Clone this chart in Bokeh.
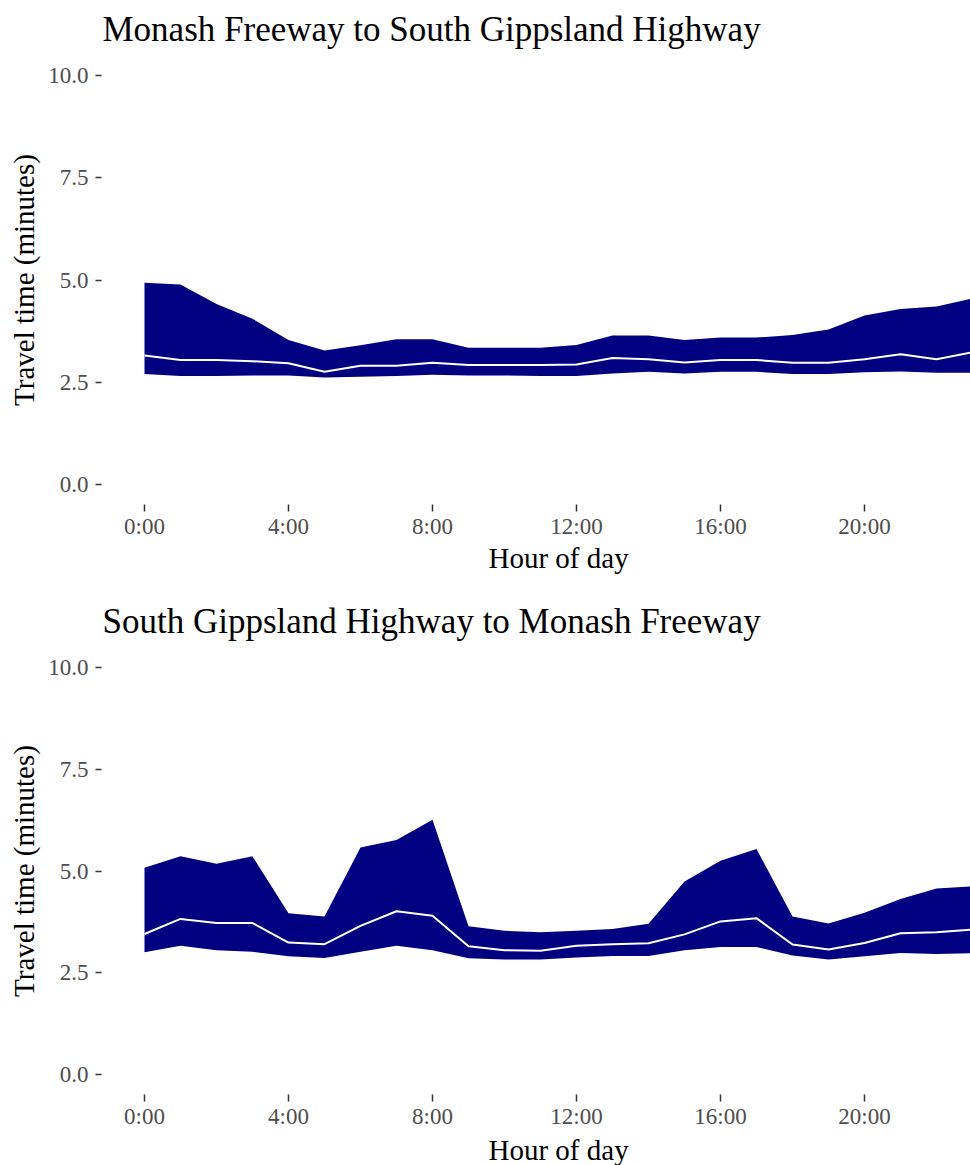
from bokeh.plotting import figure
from bokeh.layouts import column
from bokeh.models import Range1d, FixedTicker, Title
from bokeh.embed import file_html
from bokeh.resources import INLINE

hours = list(range(24))
x_ticks = [0, 4, 8, 12, 16, 20]
x_tick_labels = ["0:00", "4:00", "8:00", "12:00", "16:00", "20:00"]
y_ticks = [0, 2.5, 5, 7.5, 10]
y_tick_labels = ["0.0", "2.5", "5.0", "7.5", "10.0"]

title_top = "Monash Freeway to South Gippsland Highway"
title_bottom = "South Gippsland Highway to Monash Freeway"
x_label = "Hour of day"
y_label = "Travel time (minutes)"

# Monash Freeway -> South Gippsland Highway
mf_lower = [2.70, 2.65, 2.65, 2.66, 2.66, 2.61, 2.63, 2.65, 2.68, 2.66, 2.66, 2.65,
            2.65, 2.71, 2.75, 2.71, 2.75, 2.75, 2.70, 2.70, 2.74, 2.76, 2.73, 2.73]
mf_median = [3.15, 3.04, 3.04, 3.01, 2.96, 2.75, 2.90, 2.90, 2.97, 2.92, 2.92, 2.92,
             2.93, 3.09, 3.06, 2.98, 3.04, 3.04, 2.97, 2.97, 3.06, 3.18, 3.06, 3.23]
mf_upper = [4.93, 4.89, 4.41, 4.05, 3.53, 3.27, 3.40, 3.55, 3.55, 3.34, 3.34, 3.34,
            3.41, 3.64, 3.64, 3.53, 3.59, 3.59, 3.65, 3.79, 4.13, 4.29, 4.35, 4.55]

# South Gippsland Highway -> Monash Freeway
sg_lower = [3.00, 3.16, 3.05, 3.01, 2.90, 2.86, 3.01, 3.16, 3.05, 2.85, 2.82, 2.82,
            2.87, 2.91, 2.91, 3.05, 3.13, 3.13, 2.92, 2.82, 2.90, 2.98, 2.96, 2.98]
sg_median = [3.45, 3.82, 3.72, 3.72, 3.24, 3.20, 3.65, 4.01, 3.90, 3.15, 3.05, 3.04,
             3.16, 3.20, 3.22, 3.44, 3.76, 3.84, 3.19, 3.07, 3.23, 3.47, 3.49, 3.56]
sg_upper = [5.08, 5.36, 5.18, 5.36, 3.96, 3.88, 5.58, 5.76, 6.26, 3.64, 3.53, 3.49,
            3.53, 3.57, 3.70, 4.74, 5.25, 5.54, 3.88, 3.71, 3.97, 4.31, 4.57, 4.62]

FONT = "Liberation Serif"


def make_panel(title, lower, median, upper, height, border_bottom, xlab_standoff):
    p = figure(width=970, height=height, output_backend="svg", toolbar_location=None,
               x_range=Range1d(-1.194, 22.944), y_range=Range1d(-0.5, 10.5),
               min_border_left=101, min_border_right=0,
               min_border_top=0, min_border_bottom=border_bottom)
    p.varea(x=hours, y1=lower, y2=upper, fill_color="#000080", fill_alpha=1.0)
    p.line(x=hours, y=median, line_color="white", line_width=2)

    p.title.text = title
    p.title.text_font = FONT
    p.title.text_font_size = "35px"
    p.title.text_font_style = "normal"
    p.title.text_color = "black"
    p.title.align = "left"
    p.title.offset = 1
    p.title.standoff = 14

    p.outline_line_color = None
    p.xgrid.grid_line_color = None
    p.ygrid.grid_line_color = None
    p.background_fill_color = "white"
    p.border_fill_color = "white"

    p.xaxis.ticker = FixedTicker(ticks=x_ticks)
    p.xaxis.major_label_overrides = dict(zip(x_ticks, x_tick_labels))
    p.yaxis.ticker = FixedTicker(ticks=y_ticks)
    p.yaxis.major_label_overrides = dict(zip(y_ticks, y_tick_labels))

    for ax in (p.xaxis, p.yaxis):
        ax.axis_line_color = None
        ax.minor_tick_line_color = None
        ax.major_tick_in = 0
        ax.major_tick_line_color = "#333333"
        ax.major_tick_line_width = 1.5
        ax.major_label_text_font = FONT
        ax.major_label_text_font_size = "23px"
        ax.major_label_text_color = "#4D4D4D"
        ax.axis_label_text_font = FONT
        ax.axis_label_text_font_size = "29px"
        ax.axis_label_text_font_style = "normal"
        ax.axis_label_text_color = "black"

    p.xaxis.major_tick_out = 7
    p.xaxis.major_label_standoff = 2

    # x-axis title, centred on the (wider) ggplot-style panel
    xt = Title(text=x_label, align="left", offset=387, standoff=xlab_standoff,
               text_font=FONT, text_font_size="29px", text_font_style="normal",
               text_color="black")
    p.add_layout(xt, "below")

    p.yaxis.major_tick_out = 6
    p.yaxis.major_label_standoff = 7
    p.yaxis.axis_label_standoff = 5
    p.yaxis.axis_label = y_label
    return p


p1 = make_panel(title_top, mf_lower, mf_median, mf_upper, 592, 88, -3)
p2 = make_panel(title_bottom, sg_lower, sg_median, sg_upper, 573, 0, 0)

layout = column(p1, p2, spacing=0)
open("out.html", "w").write(file_html(layout, INLINE))
